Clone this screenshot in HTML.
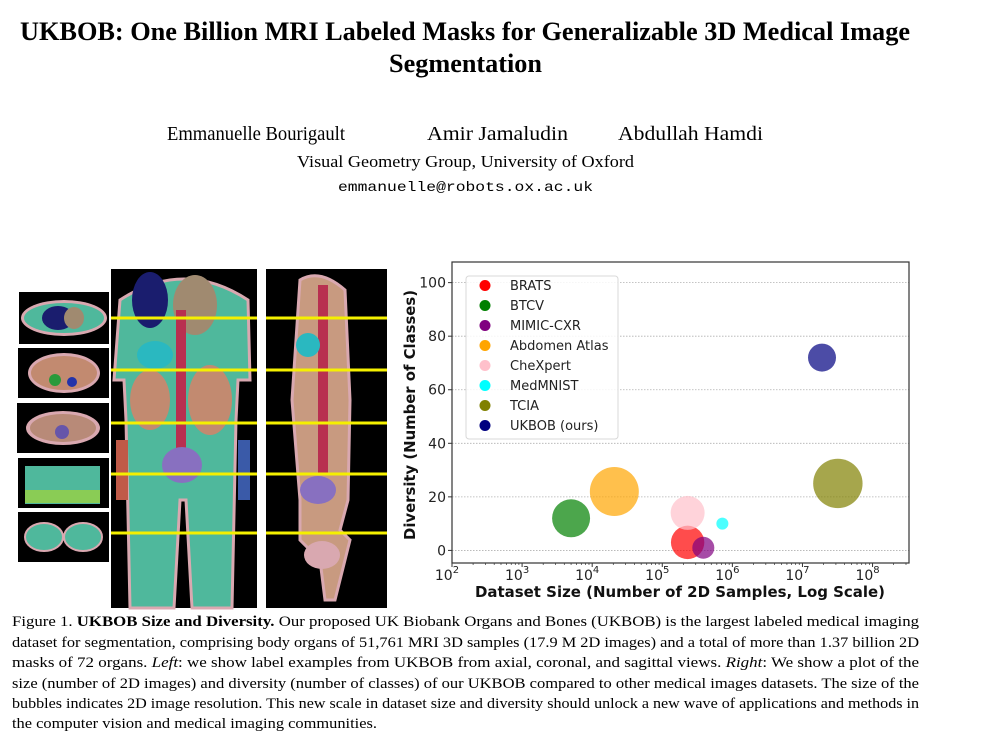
<!DOCTYPE html>
<html><head><meta charset="utf-8"><style>
html,body{margin:0;padding:0;background:#fff;}
svg{display:block;}
.serif{font-family:"Liberation Serif",serif;}
.sans{font-family:"DejaVu Sans","Liberation Sans",sans-serif;}
</style></head><body>
<svg id="page" width="1000" height="736" viewBox="0 0 1000 736">
<g class="serif">
<text x="20" y="40" font-size="26" font-weight="bold" textLength="890" lengthAdjust="spacingAndGlyphs">UKBOB: One Billion MRI Labeled Masks for Generalizable 3D Medical Image</text>
<text x="389" y="72" font-size="26" font-weight="bold" textLength="153" lengthAdjust="spacingAndGlyphs">Segmentation</text>
<text x="167" y="140" font-size="20" textLength="178" lengthAdjust="spacingAndGlyphs">Emmanuelle Bourigault</text>
<text x="427" y="140" font-size="20" textLength="141" lengthAdjust="spacingAndGlyphs">Amir Jamaludin</text>
<text x="618" y="140" font-size="20" textLength="145" lengthAdjust="spacingAndGlyphs">Abdullah Hamdi</text>
<text x="297" y="167" font-size="17" textLength="337" lengthAdjust="spacingAndGlyphs">Visual Geometry Group, University of Oxford</text>
<text x="338" y="191" font-size="14" font-family="Liberation Mono,monospace" textLength="255" lengthAdjust="spacingAndGlyphs">emmanuelle@robots.ox.ac.uk</text>
</g>

<g>
 <g>
  <rect x="19" y="292" width="90" height="52" fill="#000"/>
  <ellipse cx="64" cy="318" rx="43" ry="18" fill="#d9a8b0"/><ellipse cx="64" cy="318" rx="40" ry="15" fill="#4fb89c"/>
  <ellipse cx="58" cy="318" rx="16" ry="12" fill="#1a1d6e"/><ellipse cx="74" cy="318" rx="10" ry="11" fill="#a08a70"/>
  <rect x="18" y="348" width="91" height="50" fill="#000"/>
  <ellipse cx="64" cy="373" rx="36" ry="20" fill="#d9a8b0"/><ellipse cx="64" cy="373" rx="33" ry="17" fill="#c28a70"/>
  <circle cx="55" cy="380" r="6" fill="#2a9a3a"/><circle cx="72" cy="382" r="5" fill="#2233aa"/>
  <rect x="17" y="403" width="92" height="50" fill="#000"/>
  <ellipse cx="63" cy="428" rx="37" ry="17" fill="#d9a8b0"/><ellipse cx="63" cy="428" rx="33" ry="14" fill="#b88a78"/>
  <circle cx="62" cy="432" r="7" fill="#6655aa"/>
  <rect x="18" y="458" width="91" height="50" fill="#000"/>
  <rect x="25" y="466" width="75" height="38" fill="#4fb89c"/><rect x="25" y="490" width="75" height="13" fill="#8acc55"/>
  <rect x="18" y="512" width="91" height="50" fill="#000"/>
  <ellipse cx="44" cy="537" rx="19" ry="14" fill="#4fb89c" stroke="#d9a8b0" stroke-width="2"/>
  <ellipse cx="83" cy="537" rx="19" ry="14" fill="#4fb89c" stroke="#d9a8b0" stroke-width="2"/>
 </g>
 <g>
  <rect x="111" y="269" width="146" height="339" fill="#000"/>
  <path d="M120 300 Q184 258 248 300 L250 380 L238 380 L236 420 L232 608 L192 608 L186 500 L180 500 L174 608 L130 608 L126 420 L124 380 L114 380 Z" fill="#4fb89c" stroke="#d9a8b0" stroke-width="3"/>
  <ellipse cx="150" cy="300" rx="18" ry="28" fill="#1a1d6e"/><ellipse cx="195" cy="305" rx="22" ry="30" fill="#a08a70"/>
  <ellipse cx="150" cy="400" rx="20" ry="30" fill="#c28a70"/><ellipse cx="210" cy="400" rx="22" ry="35" fill="#c28a70"/>
  <rect x="176" y="310" width="10" height="140" fill="#b83050"/>
  <ellipse cx="155" cy="355" rx="18" ry="14" fill="#2ab8c0"/><ellipse cx="182" cy="465" rx="20" ry="18" fill="#8870c0"/>
  <rect x="238" y="440" width="12" height="60" fill="#3a5aa8"/><rect x="116" y="440" width="12" height="60" fill="#c05a48"/>
 </g>
 <g>
  <rect x="266" y="269" width="121" height="339" fill="#000"/>
  <path d="M300 280 Q320 268 345 290 L350 400 L348 500 L340 530 L350 540 L345 560 L335 600 L325 600 L320 560 L300 540 L300 500 L292 400 Z" fill="#c89a80" stroke="#d9a8b0" stroke-width="3"/>
  <rect x="318" y="285" width="10" height="190" fill="#b83050"/>
  <ellipse cx="308" cy="345" rx="12" ry="12" fill="#2ab8c0"/><ellipse cx="318" cy="490" rx="18" ry="14" fill="#8870c0"/>
  <ellipse cx="322" cy="555" rx="18" ry="14" fill="#d9a8b0"/>
 </g>
 <g stroke="#f5f000" stroke-width="3">
  <line x1="111" y1="318" x2="257" y2="318"/><line x1="266" y1="318" x2="387" y2="318"/>
  <line x1="111" y1="370" x2="257" y2="370"/><line x1="266" y1="370" x2="387" y2="370"/>
  <line x1="111" y1="423" x2="257" y2="423"/><line x1="266" y1="423" x2="387" y2="423"/>
  <line x1="111" y1="474" x2="257" y2="474"/><line x1="266" y1="474" x2="387" y2="474"/>
  <line x1="111" y1="533" x2="257" y2="533"/><line x1="266" y1="533" x2="387" y2="533"/>
 </g>
</g>

<g id="chart" class="sans"></g>

<g class="serif" font-size="15">
<text x="12" y="626" textLength="907" lengthAdjust="spacingAndGlyphs">Figure 1. <tspan font-weight="bold">UKBOB Size and Diversity.</tspan> Our proposed UK Biobank Organs and Bones (UKBOB) is the largest labeled medical imaging</text>
<text x="12" y="647" textLength="907" lengthAdjust="spacingAndGlyphs">dataset for segmentation, comprising body organs of 51,761 MRI 3D samples (17.9 M 2D images) and a total of more than 1.37 billion 2D</text>
<text x="12" y="667" textLength="907" lengthAdjust="spacingAndGlyphs">masks of 72 organs. <tspan font-style="italic">Left</tspan>: we show label examples from UKBOB from axial, coronal, and sagittal views. <tspan font-style="italic">Right</tspan>: We show a plot of the</text>
<text x="12" y="688" textLength="907" lengthAdjust="spacingAndGlyphs">size (number of 2D images) and diversity (number of classes) of our UKBOB compared to other medical images datasets. The size of the</text>
<text x="12" y="708" textLength="907" lengthAdjust="spacingAndGlyphs">bubbles indicates 2D image resolution. This new scale in dataset size and diversity should unlock a new wave of applications and methods in</text>
<text x="12" y="728" textLength="365" lengthAdjust="spacingAndGlyphs">the computer vision and medical imaging communities.</text>
</g>
</svg>
<script>
const datasets = ["BRATS","BTCV","MIMIC-CXR","Abdomen Atlas","CheXpert","MedMNIST","TCIA","UKBOB (ours)"];
const sampleCounts = [230000, 5000, 385000, 20700, 230000, 720000, 32000000, 19000000];
const classCounts = [3, 12, 1, 22, 14, 10, 25, 72];
const bubbleSizes = [279, 361, 121, 600, 289, 36, 610, 196];
const colors = ["#ff0000","#008000","#800080","#ffa500","#ffc0cb","#00ffff","#808000","#000080"];
const yTicks = [0, 20, 40, 60, 80, 100];
const xTickExps = [2, 3, 4, 5, 6, 7, 8];

const NS = "http://www.w3.org/2000/svg";
const chart = document.getElementById("chart");
const L = 452, R = 909, T = 262, B = 563;
const xMinLog = 2, xMaxLog = 8.52, yMin = -4.7, yMax = 107.7;
function xScale(v){ return L + (Math.log10(v) - xMinLog) / (xMaxLog - xMinLog) * (R - L); }
function yScale(v){ return B - (v - yMin) / (yMax - yMin) * (B - T); }
function mk(tag, attrs, parent){ const e = document.createElementNS(NS, tag); for (const k in attrs) e.setAttribute(k, attrs[k]); (parent || chart).appendChild(e); return e; }

mk("rect", {x: L, y: T, width: R - L, height: B - T, fill: "#fff"});
yTicks.forEach(t => {
  const y = yScale(t);
  const g = mk("line", {x1: L, x2: R, y1: y, y2: y, stroke: "#b0b0b0", "stroke-width": 0.8, "stroke-dasharray": "1.5,1.5"});
  
  
  mk("line", {x1: L - 4, x2: L, y1: y, y2: y, stroke: "#333"});
  const tx = mk("text", {x: L - 6, y: y + 5, "text-anchor": "end", "font-size": 14, fill: "#222"});
  tx.textContent = t;
  
  
});
xTickExps.forEach(e => {
  const x = xScale(Math.pow(10, e));
  mk("line", {x1: x, x2: x, y1: B, y2: B + 4, stroke: "#333"});
  for (let m = 2; m <= 9; m++) {
    const xm = xScale(m * Math.pow(10, e));
    if (xm < R) mk("line", {x1: xm, x2: xm, y1: B, y2: B + 2, stroke: "#333", "stroke-width": 0.7});
  }
  const tx = mk("text", {x: x - 5, y: B + 17, "text-anchor": "middle", "font-size": 14, fill: "#222"});
  tx.textContent = "10";
  const sup = mk("tspan", {dy: -7, "font-size": 10}, tx);
  sup.textContent = e;
  
  
});
for (let m = 3; m <= 9; m++) { const xm = xScale(m * 10); if (xm > L) mk("line", {x1: xm, x2: xm, y1: B, y2: B + 2, stroke: "#333", "stroke-width": 0.7}); }

datasets.forEach((d, i) => {
  const c = mk("circle", {cx: xScale(sampleCounts[i]), cy: yScale(classCounts[i]), r: Math.sqrt(bubbleSizes[i]), fill: colors[i], "fill-opacity": 0.7});
  
  
});

mk("rect", {x: L, y: T, width: R - L, height: B - T, fill: "none", stroke: "#333", "stroke-width": 1.2});

const lg = mk("g", {});


mk("rect", {x: 466, y: 276, width: 152, height: 163, rx: 3, fill: "#fff", "fill-opacity": 0.85, stroke: "#d8d8d8"}, lg);
datasets.forEach((d, i) => {
  const y = 285.5 + i * 20;
  mk("circle", {cx: 485, cy: y, r: 5.5, fill: colors[i]}, lg);
  const t = mk("text", {x: 510, y: y + 4.5, "font-size": 13, fill: "#222"}, lg);
  t.textContent = d;
  
  
});

const xt = mk("text", {x: 475, y: 597, "font-size": 15, "font-weight": "bold", fill: "#111", textLength: 410, lengthAdjust: "spacingAndGlyphs"});
xt.textContent = "Dataset Size (Number of 2D Samples, Log Scale)";


const yt = mk("text", {x: -125, y: 0, "font-size": 15, "font-weight": "bold", fill: "#111", textLength: 250, lengthAdjust: "spacingAndGlyphs", transform: "translate(415 415) rotate(-90)"});
yt.textContent = "Diversity (Number of Classes)";


</script>
</body></html>
